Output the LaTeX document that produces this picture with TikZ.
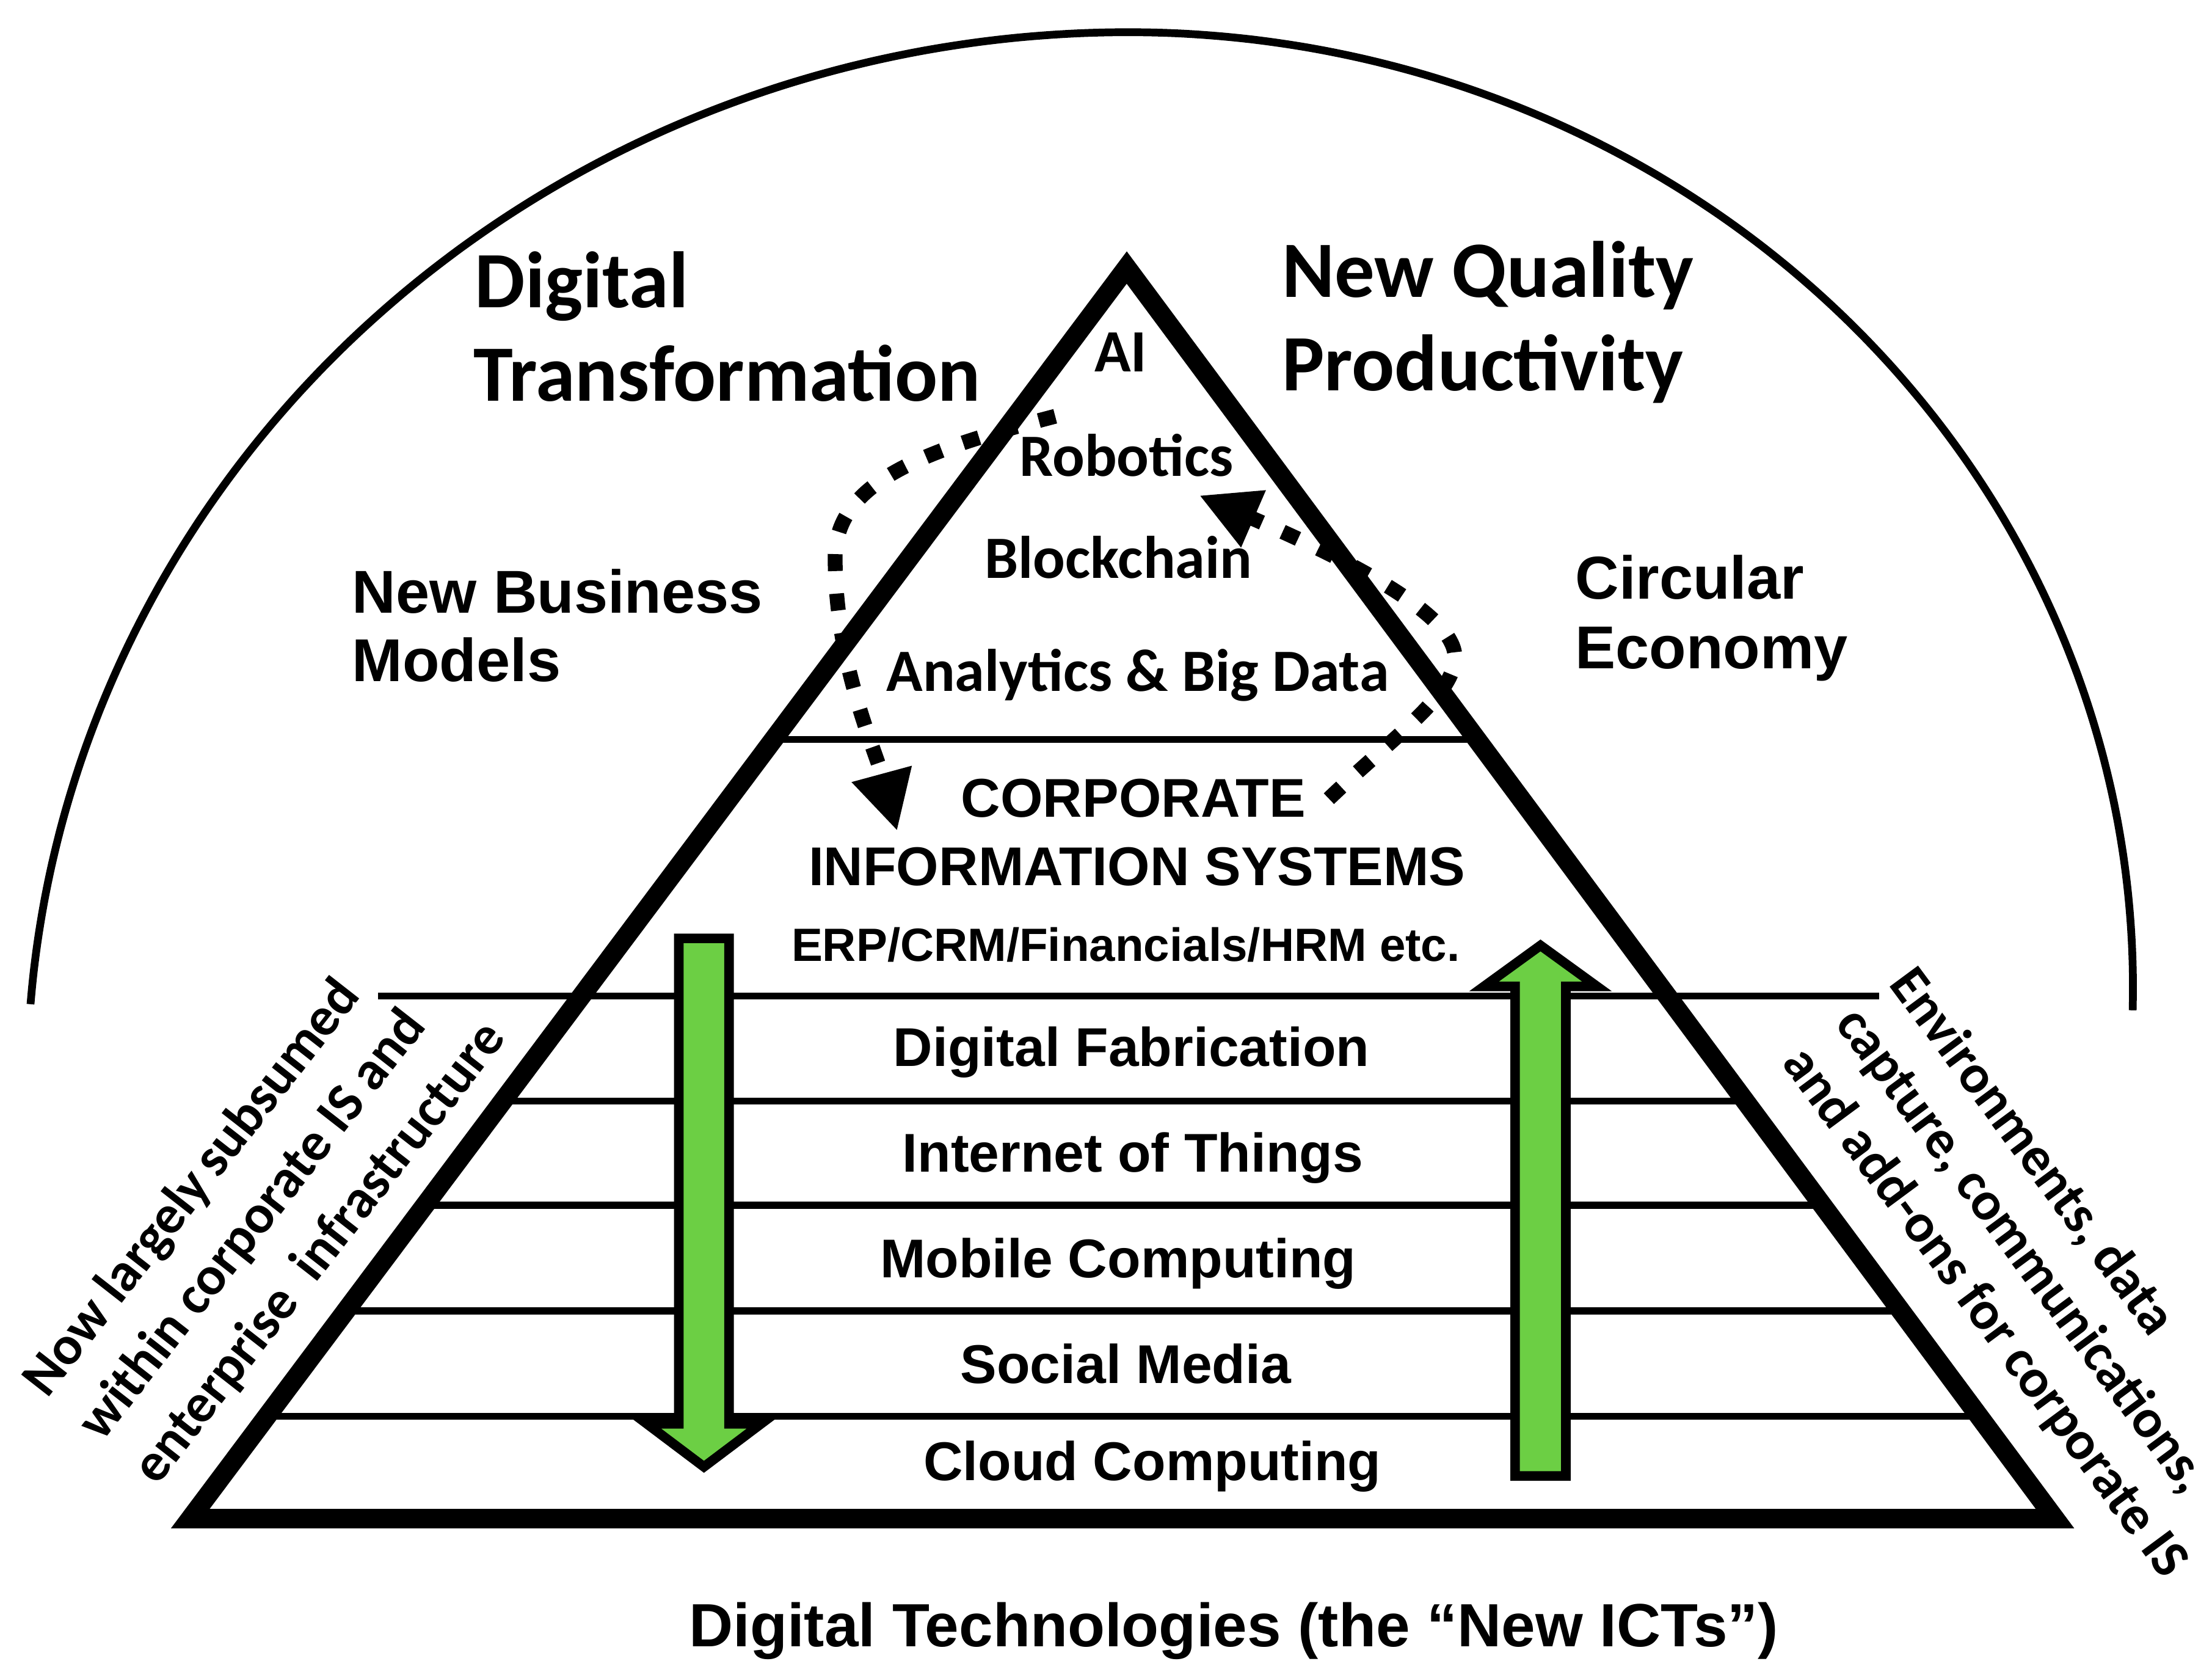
\documentclass[tikz,border=0pt]{standalone}
\usepackage{fontspec}
\setmainfont{Carlito}
\newfontfamily\arialfont{Liberation Sans}
\usetikzlibrary{arrows.meta}
\definecolor{arrowgreen}{RGB}{108,207,68}
\begin{document}
\begin{tikzpicture}[x=0.01cm,y=-0.01cm,
  calhead/.style={font=\bfseries\fontsize{16.1}{19}\selectfont, inner sep=0},
  calmid/.style={font=\bfseries\fontsize{12.1}{14}\selectfont, inner sep=0},
  calrot/.style={font=\bfseries\fontsize{11}{13}\selectfont, inner sep=0},
  arlayer/.style={font=\arialfont\bfseries\fontsize{11}{13}\selectfont, inner sep=0},
  arside/.style={font=\arialfont\bfseries\fontsize{12.2}{14}\selectfont, inner sep=0},
  arsmall/.style={font=\arialfont\bfseries\fontsize{9.4}{11}\selectfont, inner sep=0},
  sepline/.style={line width=0.05cm},
  garrow/.style={fill=arrowgreen, draw=black, line width=0.068cm, line join=miter},
  dotarrow/.style={line width=0.105cm, dash pattern=on 0.12cm off 0.16cm,
     -{Triangle[length=0.42cm,width=0.41cm]}},
  thickedge/.style={line width=0.137cm, line join=miter}]
\useasboundingbox (0,0) rectangle (1568,1187);

% outer arc
\draw[line width=0.055cm]
  plot[domain=184.48:270,samples=90,smooth] ({800+780.8*cos(\x)},{770+747.2*sin(\x)})
  -- plot[domain=270:361.35,samples=90,smooth] ({800+712*cos(\x)},{700+677.2*sin(\x)});

% separator lines
\draw[sepline] (548.3,524) -- (1046.9,524);
\draw[sepline] (268,705.8) -- (1332,705.8);
\draw[sepline] (355.4,780.4) -- (1237.2,780.4);
\draw[sepline] (301.2,854.1) -- (1291.9,854.1);
\draw[sepline] (245.1,929) -- (1347.5,929);
\draw[sepline] (189.2,1003.6) -- (1402.8,1003.6);

% green arrows
\draw[garrow] (481.2,665) -- (516.8,665) -- (516.8,1009) -- (539.5,1009)
  -- (499,1039.5) -- (458.5,1009) -- (481.2,1009) -- cycle;
\draw[garrow] (1074,1046) -- (1110,1046) -- (1110,699) -- (1132,699)
  -- (1092,670) -- (1052,699) -- (1074,699) -- cycle;

% triangle
\coordinate (apex) at (798.7,189.6);
\coordinate (bl) at (134.9,1076.2);
\coordinate (br) at (1456.7,1076.2);
\draw[thickedge] (apex) -- (bl) -- (br) -- cycle;

% texts inside the triangle
\node[calmid, anchor=base] (ai) at (794.4,263.4) {AI};
\node[calmid, anchor=base] (rob) at (798.5,337.6) {Robotics};
\node[calmid, anchor=base] (block) at (792.8,409.9) {Blockchain};
\node[calmid, anchor=base] (analytics) at (806.5,490) {Analytics \& Big Data};
\node[arlayer, anchor=base] (corp1) at (803.5,579.2) {CORPORATE};
\node[arlayer, anchor=base] (corp2) at (806,627.7) {INFORMATION SYSTEMS};
\node[arsmall, anchor=base] (erp) at (798,681.1) {ERP/CRM/Financials/HRM etc.};
\node[arlayer, anchor=base] (fab) at (802,755.6) {Digital Fabrication};
\node[arlayer, anchor=base] (iot) at (803,830.4) {Internet of Things};
\node[arlayer, anchor=base] (mob) at (792.6,905.6) {Mobile Computing};
\node[arlayer, anchor=base] (soc) at (798,980.4) {Social Media};
\node[arlayer, anchor=base] (cloud) at (816.8,1049) {Cloud Computing};

% outer labels
\node[calhead, anchor=base west] (dt1) at (336,217.8) {Digital};
\node[calhead, anchor=base west] (dt2) at (335,284) {Transformation};
\node[calhead, anchor=base west] (nq1) at (908,210.5) {New Quality};
\node[calhead, anchor=base west] (nq2) at (908,276.8) {Productivity};
\node[arside, anchor=base west] (nb1) at (249,434.5) {New Business};
\node[arside, anchor=base west] (nb2) at (249,482.8) {Models};
\node[arside, anchor=base west] (ce1) at (1116,424.5) {Circular};
\node[arside, anchor=base west] (ce2) at (1116,473.6) {Economy};

% rotated side texts
\node[calrot, rotate=52, anchor=base west] (lt1) at (33,992) {Now largely\,subsumed};
\node[calrot, rotate=52, anchor=base west] (lt2) at (72,1023) {within corporate IS and};
\node[calrot, rotate=52, anchor=base west] (lt3) at (111,1054) {enterprise~~infrastructure};
\node[calrot, rotate=-53.5, anchor=base west] (rt1) at (1338,697) {Environments, data};
\node[calrot, rotate=-53.5, anchor=base west] (rt2) at (1300,725) {capture, communications,};
\node[calrot, rotate=-53.5, anchor=base west] (rt3) at (1262,753) {and add-ons for corporate IS};

% bottom caption
\node[font=\arialfont\bfseries\fontsize{12.3}{14}\selectfont, inner sep=0, anchor=base]
  (caption) at (874.5,1167) {Digital Technologies (the “New ICTs”)};

% dotted cycle arrows
\coordinate (l0) at (748,295);
\coordinate (lm) at (592,395);
\coordinate (l1) at (636,589);
\draw[dotarrow] (l0) .. controls (660,318) and (592,340) .. (lm)
  .. controls (592,470) and (620,530) .. (l1);
\coordinate (r0) at (942,566);
\coordinate (rm) at (1031,462);
\coordinate (r1) at (850,351);
\draw[dotarrow] (r0) .. controls (990,520) and (1035,490) .. (rm)
  .. controls (1025,430) and (940,390) .. (r1);
\end{tikzpicture}
\end{document}
